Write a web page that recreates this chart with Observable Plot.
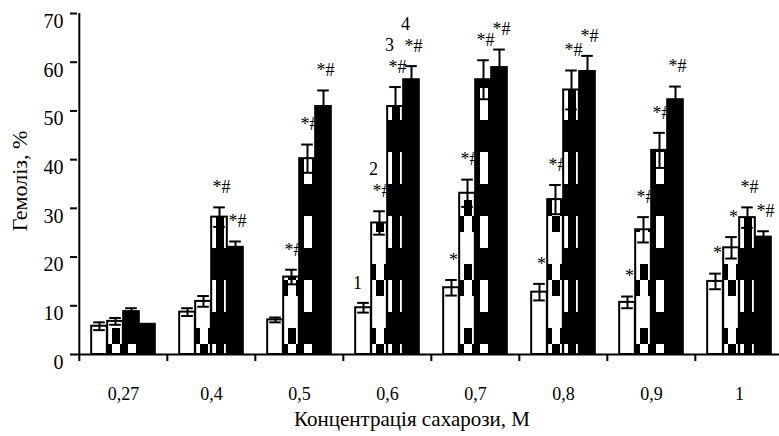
<!DOCTYPE html>
<html><head><meta charset="utf-8">
<script src="https://cdn.jsdelivr.net/npm/d3@7"></script>
<script src="https://cdn.jsdelivr.net/npm/@observablehq/plot@0.6"></script>
<style>body{margin:0;background:#fff} svg{display:block} svg text{font-family:'Liberation Serif','DejaVu Serif',serif}</style>
</head><body><div id="chart"></div>
<script>
// ---- data ----
const groups = ["0,27", "0,4", "0,5", "0,6", "0,7", "0,8", "0,9", "1"];
const seriesNames = ["1", "2", "3", "4"];
const values1 = [5.8, 8.7, 7.1, 9.6, 13.7, 12.8, 10.7, 15.0];
const errors1 = [0.8, 0.8, 0.5, 1.0, 1.6, 1.7, 1.2, 1.6];
const values2 = [6.8, 10.9, 15.9, 27.0, 33.1, 31.8, 25.6, 21.9];
const errors2 = [0.7, 1.1, 1.5, 2.4, 2.8, 3.0, 2.6, 2.2];
const values3 = [8.8, 28.2, 40.2, 50.9, 56.4, 54.3, 41.9, 28.1];
const errors3 = [0.7, 2.0, 2.9, 4.0, 4.0, 4.0, 3.6, 2.1];
const values4 = [6.2, 22.0, 50.9, 56.4, 58.9, 58.1, 52.3, 24.1];
const errors4 = [0, 1.2, 3.3, 2.8, 3.7, 3.2, 2.7, 1.2];
const sig1 = ["", "", "", "", "*", "*", "*", "*"];
const sig2 = ["", "", "*#", "*#", "*#", "*#", "*#", "*"];
const sig3 = ["", "*#", "*#", "*#", "*#", "*#", "*#", "*#"];
const sig4 = ["", "*#", "*#", "*#", "*#", "*#", "*#", "*#"];
const numberedGroup = "0,6";
const yTicks = [0, 10, 20, 30, 40, 50, 60, 70];
const yTitle = "Гемоліз, %";
const xTitle = "Концентрація сахарози, М";

// ---- layout / style ----
const W = 779, H = 436, mL = 77, mR = -5, mT = 13, mB = 82;
const bandW = (W - mL - mR) / groups.length;
const barW = 16, capW = 12;
const font = "'Liberation Serif', 'DejaVu Serif', serif";
const fills = ["white", "url(#pat2)", "url(#pat3)", "black"];

const allValues = [values1, values2, values3, values4];
const allErrors = [errors1, errors2, errors3, errors4];
const allSig = [sig1, sig2, sig3, sig4];
const rows = [];
seriesNames.forEach((s, k) => groups.forEach((g, i) => rows.push({
  group: g, k, series: s, value: allValues[k][i], err: allErrors[k][i], sig: allSig[k][i]
})));

const marks = [];
seriesNames.forEach((s, k) => {
  const d = rows.filter(r => r.k === k);
  const dx = (k - 1.5) * barW;
  const inset = (bandW - barW) / 2;
  const cInset = (bandW - capW) / 2;
  const e = d.filter(r => r.err > 0);
  marks.push(Plot.barY(d, {x: "group", y: "value", fill: fills[k], stroke: "black", strokeWidth: 2,
    dx, insetLeft: inset, insetRight: inset}));
  marks.push(Plot.ruleX(e, {x: "group", y1: r => r.value - r.err, y2: r => r.value + r.err, dx, stroke: "black", strokeWidth: 2}));
  marks.push(Plot.tickY(e, {x: "group", y: r => r.value + r.err, dx, insetLeft: cInset, insetRight: cInset, stroke: "black", strokeWidth: 2}));
  marks.push(Plot.tickY(e, {x: "group", y: r => r.value - r.err, dx, insetLeft: cInset, insetRight: cInset, stroke: "black", strokeWidth: 2}));
  marks.push(Plot.text(d.filter(r => r.sig), {x: "group", y: r => r.value + r.err, text: "sig", dx: dx + 2, dy: -20,
    fontSize: 18, fontFamily: font, fill: "black"}));
  const num = d.filter(r => r.group === numberedGroup);
  marks.push(Plot.text(num, {x: "group", y: r => r.value + r.err, text: "series", dx: dx - 6,
    dy: num[0].sig ? -42 : -20, fontSize: 18, fontFamily: font, fill: "black"}));
});

const chart = Plot.plot({
  width: W, height: H, marginLeft: mL, marginRight: mR, marginTop: mT, marginBottom: mB,
  style: {fontFamily: font, fontSize: "19px", color: "black", background: "white", overflow: "visible"},
  x: {type: "band", domain: groups, padding: 0},
  y: {domain: [0, 70]},
  marks: [
    ...marks,
    Plot.ruleY([0], {stroke: "black", strokeWidth: 2}),
    Plot.ruleX([groups[0]], {x: d => d, y1: 0, y2: 70, dx: -bandW / 2, stroke: "black", strokeWidth: 2}),
    Plot.axisY({ticks: yTicks, tickSize: 7, tickFormat: () => "", label: null, strokeWidth: 2}),
    Plot.axisY({ticks: yTicks, tickSize: 0, tickPadding: 14, dy: 8, label: null, fontSize: 20, fontFamily: font}),
    Plot.axisX({tickSize: 7, dx: -bandW / 2, tickFormat: () => "", label: null, strokeWidth: 2}),
    Plot.axisX({tickSize: 0, tickPadding: 33, label: null, fontSize: 18, fontFamily: font}),
    Plot.text([yTitle], {frameAnchor: "left", textAnchor: "middle", rotate: -90, dx: -58, dy: -3, fontSize: 22, fontFamily: font, fill: "black"}),
    Plot.text([xTitle], {frameAnchor: "bottom", textAnchor: "middle", dx: -19, dy: 71, fontSize: 21, fontFamily: font, fill: "black"})
  ]
});

const ns = "http://www.w3.org/2000/svg";
const defs = document.createElementNS(ns, "defs");
defs.innerHTML =
  '<pattern id="pat2" patternUnits="userSpaceOnUse" x="0" y="8" width="16" height="64">' +
  '<rect width="16" height="64" fill="white"/>' +
  '<rect x="8" y="0" width="8" height="16" fill="black"/>' +
  '<rect x="0" y="16" width="8" height="16" fill="black"/></pattern>' +
  '<pattern id="pat3" patternUnits="userSpaceOnUse" x="0" y="56" width="16" height="64">' +
  '<rect width="16" height="64" fill="white"/>' +
  '<rect x="0" y="0" width="16" height="32" fill="black"/>' +
  '<rect x="0" y="32" width="8" height="32" fill="black"/></pattern>';
chart.insertBefore(defs, chart.firstChild);
document.getElementById("chart").appendChild(chart);
</script>
</body></html>
